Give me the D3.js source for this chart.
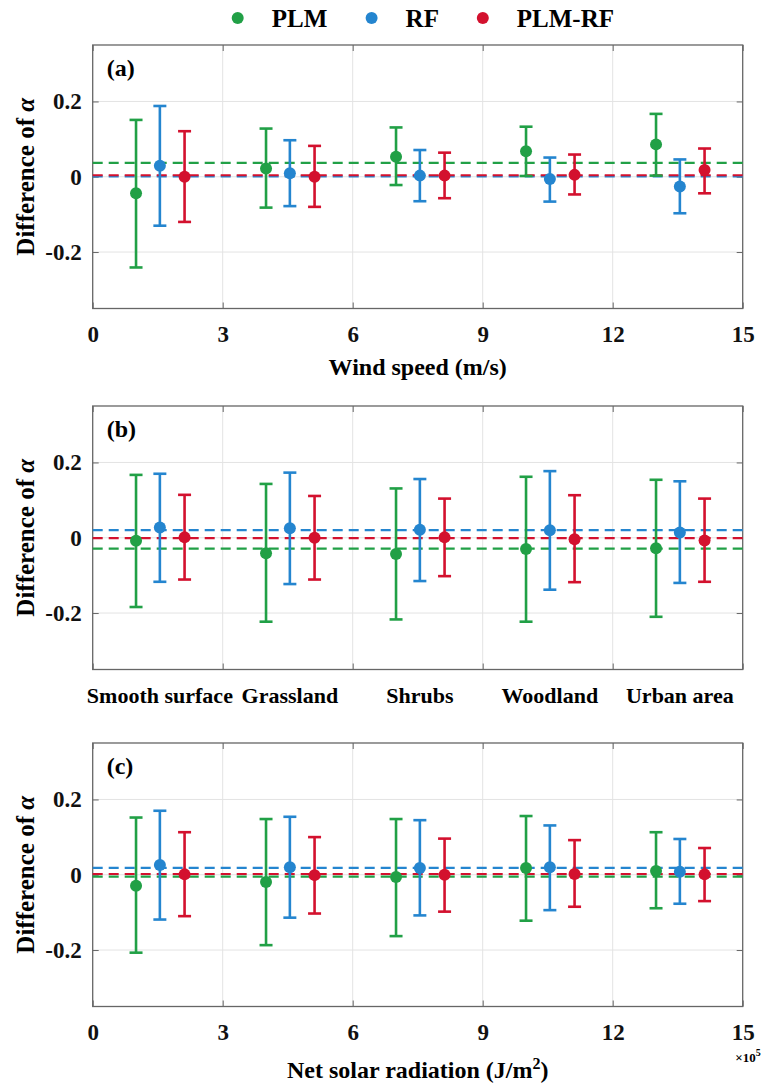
<!DOCTYPE html>
<html>
<head>
<meta charset="utf-8">
<script src="https://cdn.jsdelivr.net/npm/d3@7"></script>
<style>
    body { margin: 0; background: #fff; }
    svg text { font-family: "Liberation Serif", "Times New Roman", serif; font-weight: bold; }
</style>
</head>
<body>
<script>
// Series names and colours
var seriesNames = ['PLM', 'RF', 'PLM-RF'],
    seriesColors = ['#21a046', '#2485cf', '#d3112e'];

// x positions of the groups and offset of each series inside a group
var groupX = [1, 4, 7, 10, 13],
    seriesOffset = [0, 0.55, 1.12];

var xTicks = [0, 3, 6, 9, 12, 15],
    yTicks = [-0.2, 0, 0.2];

// (a) wind speed: [mean, lower, upper]
var windPLM = [[-0.044, -0.241, 0.151], [0.022, -0.082, 0.128], [0.053, -0.022, 0.131], [0.068, 0.002, 0.133], [0.086, 0.003, 0.167]];
var windRF = [[0.029, -0.130, 0.188], [0.009, -0.078, 0.097], [0.003, -0.065, 0.071], [-0.006, -0.066, 0.051], [-0.026, -0.097, 0.046]];
var windPLMRF = [[0.000, -0.120, 0.121], [0.000, -0.080, 0.082], [0.003, -0.057, 0.064], [0.005, -0.047, 0.059], [0.018, -0.044, 0.075]];
var windMean = [0.037, 0.001, 0.004];

// (b) land cover
var landLabels = ['Smooth surface', 'Grassland', 'Shrubs', 'Woodland', 'Urban area'];
var landPLM = [[-0.008, -0.184, 0.167], [-0.041, -0.223, 0.143], [-0.043, -0.217, 0.131], [-0.030, -0.223, 0.162], [-0.028, -0.210, 0.154]];
var landRF = [[0.027, -0.117, 0.170], [0.025, -0.123, 0.173], [0.021, -0.115, 0.156], [0.020, -0.138, 0.177], [0.014, -0.120, 0.150]];
var landPLMRF = [[0.001, -0.111, 0.114], [0.000, -0.111, 0.111], [0.001, -0.102, 0.104], [-0.004, -0.118, 0.113], [-0.007, -0.117, 0.104]];
var landMean = [-0.029, 0.020, -0.001];

// (c) net solar radiation (x 10^5 J/m2)
var radPLM = [[-0.029, -0.207, 0.152], [-0.019, -0.187, 0.148], [-0.006, -0.163, 0.148], [0.018, -0.122, 0.156], [0.010, -0.089, 0.113]];
var radRF = [[0.026, -0.119, 0.170], [0.020, -0.114, 0.154], [0.018, -0.108, 0.145], [0.020, -0.094, 0.131], [0.008, -0.077, 0.095]];
var radPLMRF = [[0.001, -0.110, 0.113], [-0.001, -0.103, 0.100], [0.000, -0.098, 0.096], [0.002, -0.085, 0.092], [0.001, -0.070, 0.071]];
var radMean = [-0.005, 0.018, 0.002];

var WIDTH = 764,
    HEIGHT = 1090,
    LEFT = 92.7,
    PW = 650,
    PH = 263.5,
    TICK = 6,
    CAP = 6.5,
    DOT_R = 6;

var svg = d3.select('body').append('svg')
    .attr('width', WIDTH)
    .attr('height', HEIGHT);

var x = d3.scaleLinear().domain([0, 15]).range([0, PW]),
    y = d3.scaleLinear().domain([-0.35, 0.35]).range([PH, 0]);

var fmt = d => d === 0 ? '0' : String(d);

// Legend
var legendX = [237.7, 371.6, 482.8];
var legend = svg.append('g').attr('transform', 'translate(0,18)');
seriesNames.forEach((name, i) => {
    legend.append('circle')
        .attr('cx', legendX[i])
        .attr('cy', 0)
        .attr('r', DOT_R)
        .attr('fill', seriesColors[i]);
    legend.append('text')
        .attr('x', legendX[i] + 34)
        .attr('y', 9)
        .attr('font-size', 25)
        .text(name);
});

function drawPanel(top, letter, series, means, opts) {
    var g = svg.append('g').attr('transform', `translate(${LEFT},${top})`);

    // grid
    g.selectAll('.vgrid').data(xTicks.slice(1, -1)).enter().append('line')
        .attr('x1', d => x(d)).attr('x2', d => x(d))
        .attr('y1', 0).attr('y2', PH)
        .attr('stroke', '#e3e3e3').attr('stroke-width', 1);
    g.selectAll('.hgrid').data(yTicks).enter().append('line')
        .attr('x1', 0).attr('x2', PW)
        .attr('y1', d => y(d)).attr('y2', d => y(d))
        .attr('stroke', '#e3e3e3').attr('stroke-width', 1);

    // axes (ticks inward on all four sides)
    g.append('g').attr('transform', `translate(0,${PH})`)
        .call(d3.axisBottom(x).tickValues(xTicks).tickSize(-TICK).tickPadding(17)
            .tickFormat(opts.xLabels ? fmt : ''));
    g.append('g')
        .call(d3.axisTop(x).tickValues(xTicks).tickSize(-TICK).tickFormat(''));
    g.append('g')
        .call(d3.axisLeft(y).tickValues(yTicks).tickSize(-TICK).tickPadding(11).tickFormat(fmt));
    g.append('g').attr('transform', `translate(${PW},0)`)
        .call(d3.axisRight(y).tickValues(yTicks).tickSize(-TICK).tickFormat(''));

    g.selectAll('.domain').remove();
    g.selectAll('.tick line').attr('stroke', '#666');
    g.selectAll('.tick text')
        .attr('fill', '#111')
        .attr('font-size', 23)
        .attr('font-family', '"Liberation Serif", "Times New Roman", serif')
        .attr('font-weight', 'bold');

    g.append('rect')
        .attr('width', PW).attr('height', PH)
        .attr('fill', 'none')
        .attr('stroke', '#666')
        .attr('stroke-width', 1.3);

    // mean lines
    means.forEach((m, i) => {
        g.append('line')
            .attr('x1', 0).attr('x2', PW)
            .attr('y1', y(m)).attr('y2', y(m))
            .attr('stroke', seriesColors[i])
            .attr('stroke-width', 2.2)
            .attr('stroke-dasharray', '10,6');
    });

    // error bars
    groupX.forEach((gx, j) => {
        series.forEach((s, i) => {
            var d = s[j],
                cx = x(gx + seriesOffset[i]),
                c = seriesColors[i],
                bar = g.append('g');
            bar.append('line')
                .attr('x1', cx).attr('x2', cx)
                .attr('y1', y(d[1])).attr('y2', y(d[2]));
            bar.append('line')
                .attr('x1', cx - CAP).attr('x2', cx + CAP)
                .attr('y1', y(d[1])).attr('y2', y(d[1]));
            bar.append('line')
                .attr('x1', cx - CAP).attr('x2', cx + CAP)
                .attr('y1', y(d[2])).attr('y2', y(d[2]));
            bar.selectAll('line').attr('stroke', c).attr('stroke-width', 2.6);
            bar.append('circle')
                .attr('cx', cx).attr('cy', y(d[0]))
                .attr('r', DOT_R)
                .attr('fill', c);
        });
    });

    // panel letter
    g.append('text')
        .attr('x', 14).attr('y', 31)
        .attr('font-size', 24)
        .text(`(${letter})`);

    // y label
    var yl = g.append('text')
        .attr('transform', `translate(${-LEFT + 34},${PH / 2}) rotate(-90)`)
        .attr('text-anchor', 'middle')
        .attr('font-size', 25)
        .text('Difference of ');
    yl.append('tspan').attr('font-style', 'italic').text('α');

    // category labels
    if (opts.categories) {
        g.selectAll('.cat').data(opts.categories).enter().append('text')
            .attr('x', (d, j) => x(groupX[j] + seriesOffset[1]))
            .attr('y', PH + 33)
            .attr('text-anchor', 'middle')
            .attr('font-size', 22)
            .text(d => d);
    }

    return g;
}

var ga = drawPanel(45, 'a', [windPLM, windRF, windPLMRF], windMean, { xLabels: true });
ga.append('text')
    .attr('x', PW / 2).attr('y', PH + 66)
    .attr('text-anchor', 'middle')
    .attr('font-size', 24)
    .text('Wind speed (m/s)');

drawPanel(406, 'b', [landPLM, landRF, landPLMRF], landMean, { xLabels: false, categories: landLabels });

var gc = drawPanel(743, 'c', [radPLM, radRF, radPLMRF], radMean, { xLabels: true });
var xl = gc.append('text')
    .attr('x', PW / 2).attr('y', PH + 71)
    .attr('text-anchor', 'middle')
    .attr('font-size', 24)
    .text('Net solar radiation (J/m');
xl.append('tspan').attr('dy', -9).attr('font-size', 16).text('2');
xl.append('tspan').attr('dy', 9).text(')');

var ex = gc.append('text')
    .attr('x', PW + 18).attr('y', PH + 55)
    .attr('text-anchor', 'end')
    .attr('font-size', 13)
    .attr('font-weight', 'normal')
    .text('×10');
ex.append('tspan').attr('dy', -6).attr('font-size', 10).text('5');
</script>
</body>
</html>
